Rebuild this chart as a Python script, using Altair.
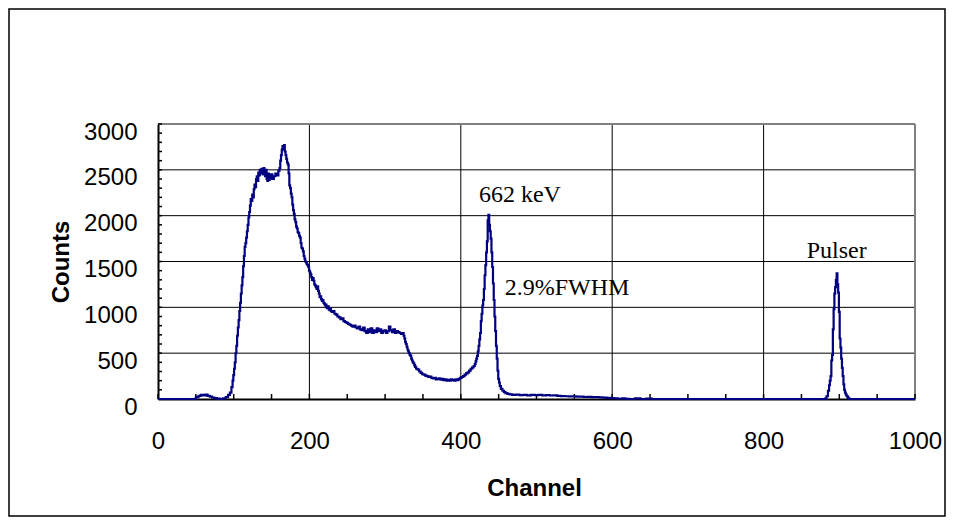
import altair as alt
import pandas as pd

channel = [0, 48, 52, 55, 58, 61, 64, 67, 70, 73, 76, 80, 84, 88, 91, 94, 96, 98, 99,
           100, 101, 102, 103, 104, 105, 106, 107, 108, 109, 110, 111, 112, 113, 114, 115,
           116, 117, 118, 119, 120, 121, 122, 123, 124, 125, 126, 127, 128, 129, 130, 131,
           132, 133, 134, 135, 136, 137, 138, 139, 140, 141, 142, 143, 144, 145, 146, 147,
           148, 149, 150, 152, 154, 156, 158, 160, 161, 162, 163, 164, 165, 166, 167, 168,
           169, 170, 171, 172, 173, 174, 175, 176, 177, 178, 179, 180, 181, 182, 183, 184,
           185, 186, 187, 188, 189, 190, 191, 192, 193, 194, 195, 196, 197, 198, 199, 200,
           201, 202, 203, 204, 205, 206, 207, 208, 209, 210, 211, 212, 213, 214, 215, 216,
           217, 218, 219, 220, 221, 222, 223, 224, 225, 226, 227, 228, 229, 230, 232, 234,
           236, 238, 240, 242, 244, 246, 248, 250, 252, 254, 256, 258, 260, 262, 264, 266,
           268, 270, 272, 274, 276, 278, 280, 282, 284, 286, 288, 290, 292, 294, 296, 298,
           300, 302, 304, 306, 308, 310, 312, 314, 316, 318, 320, 322, 324, 325, 326, 327,
           328, 329, 330, 331, 332, 333, 334, 335, 336, 337, 338, 339, 340, 342, 344, 346,
           348, 350, 352, 354, 356, 358, 360, 362, 364, 366, 368, 370, 372, 374, 376, 378,
           380, 382, 384, 386, 388, 390, 392, 394, 396, 398, 400, 402, 404, 406, 408, 410,
           412, 414, 416, 418, 419, 420, 421, 422, 423, 424, 425, 426, 427, 428, 429, 430,
           431, 432, 433, 434, 435, 436, 437, 438, 439, 440, 441, 442, 443, 444, 445, 446,
           447, 448, 449, 450, 451, 452, 454, 456, 458, 460, 463, 466, 470, 475, 480, 485,
           490, 495, 500, 505, 510, 515, 520, 525, 530, 535, 540, 545, 550, 555, 560, 565,
           570, 575, 580, 585, 590, 595, 600, 605, 610, 615, 620, 625, 635, 640, 650, 655,
           880, 882, 884, 886, 887, 888, 889, 890, 891, 892, 893, 894, 895, 896, 897, 898,
           899, 900, 901, 902, 903, 904, 905, 906, 907, 908, 909, 910, 911, 912, 914, 1000]

counts = [0, 0, 20, 35, 45, 40, 48, 35, 25, 15, 10, 5, 0, 8, 20, 45, 70, 130, 200,
          260, 330, 400, 500, 580, 690, 780, 860, 960, 1050, 1150, 1240, 1330, 1450, 1560, 1660,
          1700, 1760, 1830, 1900, 1980, 2040, 2110, 2180, 2160, 2230, 2200, 2290, 2340, 2310, 2400, 2430,
          2380, 2470, 2440, 2500, 2460, 2510, 2480, 2450, 2520, 2490, 2430, 2500, 2400, 2380, 2460, 2390,
          2440, 2410, 2450, 2400, 2430, 2460, 2440, 2490, 2520, 2600, 2660, 2720, 2760, 2740, 2770, 2700,
          2660, 2620, 2580, 2560, 2460, 2330, 2300, 2240, 2200, 2120, 2060, 2020, 1960, 1930, 1880, 1860,
          1820, 1810, 1780, 1760, 1700, 1650, 1640, 1610, 1560, 1530, 1500, 1490, 1470, 1460, 1440, 1400,
          1380, 1360, 1330, 1300, 1320, 1290, 1250, 1240, 1220, 1200, 1230, 1180, 1150, 1110, 1120, 1090,
          1070, 1080, 1050, 1040, 1020, 1030, 1000, 990, 1010, 980, 970, 990, 960, 950, 960, 930,
          920, 900, 890, 870, 880, 850, 840, 830, 820, 810, 800, 790, 800, 780, 770, 790,
          760, 750, 780, 740, 720, 760, 730, 770, 720, 750, 730, 770, 740, 760, 720, 740,
          750, 720, 740, 790, 750, 730, 760, 720, 740, 730, 720, 710, 720, 690, 660, 620,
          600, 570, 540, 520, 500, 480, 470, 440, 420, 400, 390, 370, 350, 330, 320, 300,
          285, 270, 265, 255, 250, 240, 245, 230, 225, 230, 215, 220, 225, 210, 220, 205,
          215, 200, 210, 200, 215, 205, 200, 215, 205, 220, 230, 240, 250, 265, 280, 290,
          310, 330, 345, 360, 380, 410, 440, 470, 520, 580, 650, 720, 850, 930, 1020, 1080,
          1200, 1350, 1460, 1600, 1720, 1950, 2010, 1900, 1830, 1750, 1600, 1440, 1260, 1080, 900, 740,
          580, 440, 310, 220, 180, 140, 110, 90, 75, 65, 55, 50, 45, 48, 42, 46,
          40, 44, 42, 45, 40, 43, 38, 40, 35, 32, 30, 28, 30, 25, 26, 22,
          24, 20, 22, 18, 15, 12, 10, 6, 3, 8, 2, 0, 6, 0, 4, 0,
          0, 5, 30, 90, 150, 200, 250, 420, 480, 760, 980, 1150, 1220, 1300, 1370, 1250,
          1160, 950, 660, 560, 440, 340, 250, 160, 100, 70, 50, 35, 25, 12, 0, 0]

x_labels = [0, 200, 400, 600, 800, 1000]
y_labels = [0, 500, 1000, 1500, 2000, 2500, 3000]
x_grid = [200, 400, 600, 800]
y_grid = [500, 1000, 1500, 2000, 2500]
x_minor = [0, 50, 100, 150, 200, 250, 300, 350, 400, 450, 500, 550, 600, 650, 700,
           750, 800, 850, 900, 950, 1000]
y_minor = [0, 100, 200, 300, 400, 500, 600, 700, 800, 900, 1000, 1100, 1200, 1300, 1400,
           1500, 1600, 1700, 1800, 1900, 2000, 2100, 2200, 2300, 2400, 2500, 2600, 2700,
           2800, 2900, 3000]
ann_text = ["662 keV", "2.9%FWHM", "Pulser"]
ann_x = [424, 458, 857]
ann_y = [2151, 1136, 1542]

W, H = 757, 275
PL, PT, PR, PB = 150, 116, 31, 118

xs = alt.Scale(domain=[0, 1000], nice=False, zero=False)
ys = alt.Scale(domain=[0, 3000], nice=False, zero=False)

spec = pd.DataFrame({"x": channel, "y": counts})

vgrid = alt.Chart(pd.DataFrame({"x": x_grid})).mark_rule(color="black", strokeWidth=1).encode(
    x=alt.X("x:Q", scale=xs))
hgrid = alt.Chart(pd.DataFrame({"y": y_grid})).mark_rule(color="black", strokeWidth=1).encode(
    y=alt.Y("y:Q", scale=ys))
top_border = alt.Chart(pd.DataFrame({"y": [3000]})).mark_rule(color="#808080", strokeWidth=2).encode(
    y=alt.Y("y:Q", scale=ys))
right_border = alt.Chart(pd.DataFrame({"x": [1000]})).mark_rule(color="#808080", strokeWidth=2).encode(
    x=alt.X("x:Q", scale=xs))
xminor = alt.Chart(pd.DataFrame({"x": x_minor})).mark_rule(color="black", strokeWidth=1.5).encode(
    x=alt.X("x:Q", scale=xs), y=alt.value(H - 5), y2=alt.value(H))
yminor = alt.Chart(pd.DataFrame({"y": y_minor})).mark_rule(color="black", strokeWidth=1.5).encode(
    y=alt.Y("y:Q", scale=ys), x=alt.value(0), x2=alt.value(4))

line = alt.Chart(spec).mark_line(interpolate="step", color="#000080", strokeWidth=2.2).encode(
    x=alt.X("x:Q", scale=xs, title="Channel",
            axis=alt.Axis(values=x_labels, format="d", labelBaseline="alphabetic", labelPadding=49,
                          titleX=376, titleY=96, titleBaseline="alphabetic", titleAlign="center")),
    y=alt.Y("y:Q", scale=ys, title="Counts",
            axis=alt.Axis(values=y_labels, format="d", labelBaseline="alphabetic", labelOffset=15,
                          labelPadding=21, titleX=-90, titleY=H / 2, titleAngle=-90,
                          titleBaseline="alphabetic", titleAlign="center")),
)

ann = alt.Chart(pd.DataFrame({"x": ann_x, "y": ann_y, "t": ann_text})).mark_text(
    font="Liberation Serif", fontSize=24, align="left", baseline="alphabetic", color="black"
).encode(x=alt.X("x:Q", scale=xs), y=alt.Y("y:Q", scale=ys), text="t:N")

frame = alt.Chart(pd.DataFrame({"a": [0]})).mark_rect(
    filled=False, stroke="black", strokeWidth=1.5
).encode(x=alt.value(-PL + 1), x2=alt.value(W + PR - 1),
         y=alt.value(-PT + 1), y2=alt.value(H + PB - 1))

chart = alt.layer(vgrid, hgrid, top_border, right_border, xminor, yminor, line, ann, frame).properties(
    width=W, height=H,
    autosize=alt.AutoSizeParams(type="none"),
    padding={"left": PL, "top": PT, "right": PR, "bottom": PB},
).configure_view(stroke=None).configure_axis(
    grid=False, ticks=False, tickSize=0, domainColor="black", domainWidth=2,
    labelFont="Liberation Sans", labelFontSize=24, labelColor="black",
    titleFont="Liberation Sans", titleFontSize=24, titleFontWeight="bold", titleColor="black",
    zindex=1, labelFlush=False, labelOverlap=False,
)

chart.save("out.html", embed_options={"renderer": "svg", "actions": False})
